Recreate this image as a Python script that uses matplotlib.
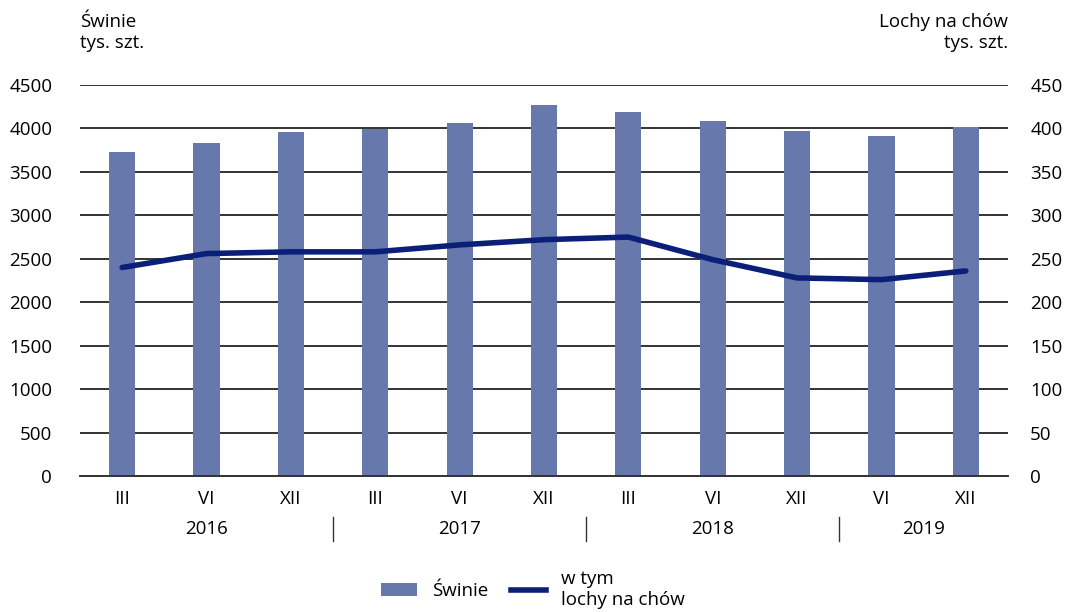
import matplotlib
matplotlib.use("Agg")
import matplotlib.pyplot as plt
import matplotlib.transforms as mtransforms
from matplotlib.patches import Patch
from matplotlib.lines import Line2D

plt.rcParams['font.family'] = ['Open Sans', 'DejaVu Sans']

months = ["III", "VI", "XII", "III", "VI", "XII", "III", "VI", "XII", "VI", "XII"]
years = ["2016", "2017", "2018", "2019"]
year_centers = [1, 4, 7, 9.5]
year_separators = [2.5, 5.5, 8.5]
swinie = [3725, 3835, 3955, 3995, 4065, 4265, 4195, 4085, 3965, 3915, 4020]
lochy = [240, 256, 258, 258, 266, 272, 275, 249, 228, 226, 236]

bar_color = "#6778ad"
line_color = "#0b1f78"
fs = 13.5

fig = plt.figure(figsize=(10.66, 6.12), dpi=100)
ax = fig.add_axes([0.075, 0.2222, 0.8706, 0.6389])
x = list(range(len(months)))
ax.bar(x, swinie, width=0.31, color=bar_color, zorder=2)
ax.set_xlim(-0.5, 10.5)
ax.set_ylim(0, 4500)
ax.set_yticks(range(0, 4501, 500))
ax.grid(axis='y', color='#333333', linewidth=1.4, zorder=0)
ax.set_axisbelow(True)
for s in ['top', 'left', 'right']:
    ax.spines[s].set_visible(False)
ax.spines['bottom'].set_color('#333333')
ax.spines['bottom'].set_linewidth(1.4)
ax.set_xticks(x)
ax.set_xticklabels(months, fontsize=fs)
ax.tick_params(axis='x', length=0, pad=10)
ax.tick_params(axis='y', length=0, labelsize=fs, pad=20)

ax2 = ax.twinx()
ax2.plot(x, lochy, color=line_color, linewidth=4, solid_capstyle='round', zorder=3)
ax2.set_ylim(0, 450)
ax2.set_yticks(range(0, 451, 50))
for s in ['top', 'left', 'right', 'bottom']:
    ax2.spines[s].set_visible(False)
ax2.tick_params(axis='y', length=0, labelsize=fs, pad=16)

trans = mtransforms.blended_transform_factory(ax.transData, ax.transAxes)
for yc, yl in zip(year_centers, years):
    ax.text(yc, -0.135, yl, transform=trans, ha='center', va='center', fontsize=fs)
for xs in year_separators:
    ax.plot([xs, xs], [-0.105, -0.165], transform=trans, color='#333333',
            linewidth=1, clip_on=False)

fig.text(0.075, 0.978, "Świnie\ntys. szt.", ha='left', va='top', fontsize=fs,
         linespacing=1.2)
fig.text(0.9456, 0.978, "Lochy na chów\ntys. szt.", ha='right', va='top', fontsize=fs,
         linespacing=1.2)

handles = [Patch(facecolor=bar_color), Line2D([0], [0], color=line_color, linewidth=4)]
fig.legend(handles, ["Świnie", "w tym\nlochy na chów"], loc='lower center',
           bbox_to_anchor=(0.5, -0.022), ncol=2, frameon=False, fontsize=fs,
           handlelength=1.9, columnspacing=1.2, handletextpad=0.8)

fig.savefig("out.png", dpi=100)
